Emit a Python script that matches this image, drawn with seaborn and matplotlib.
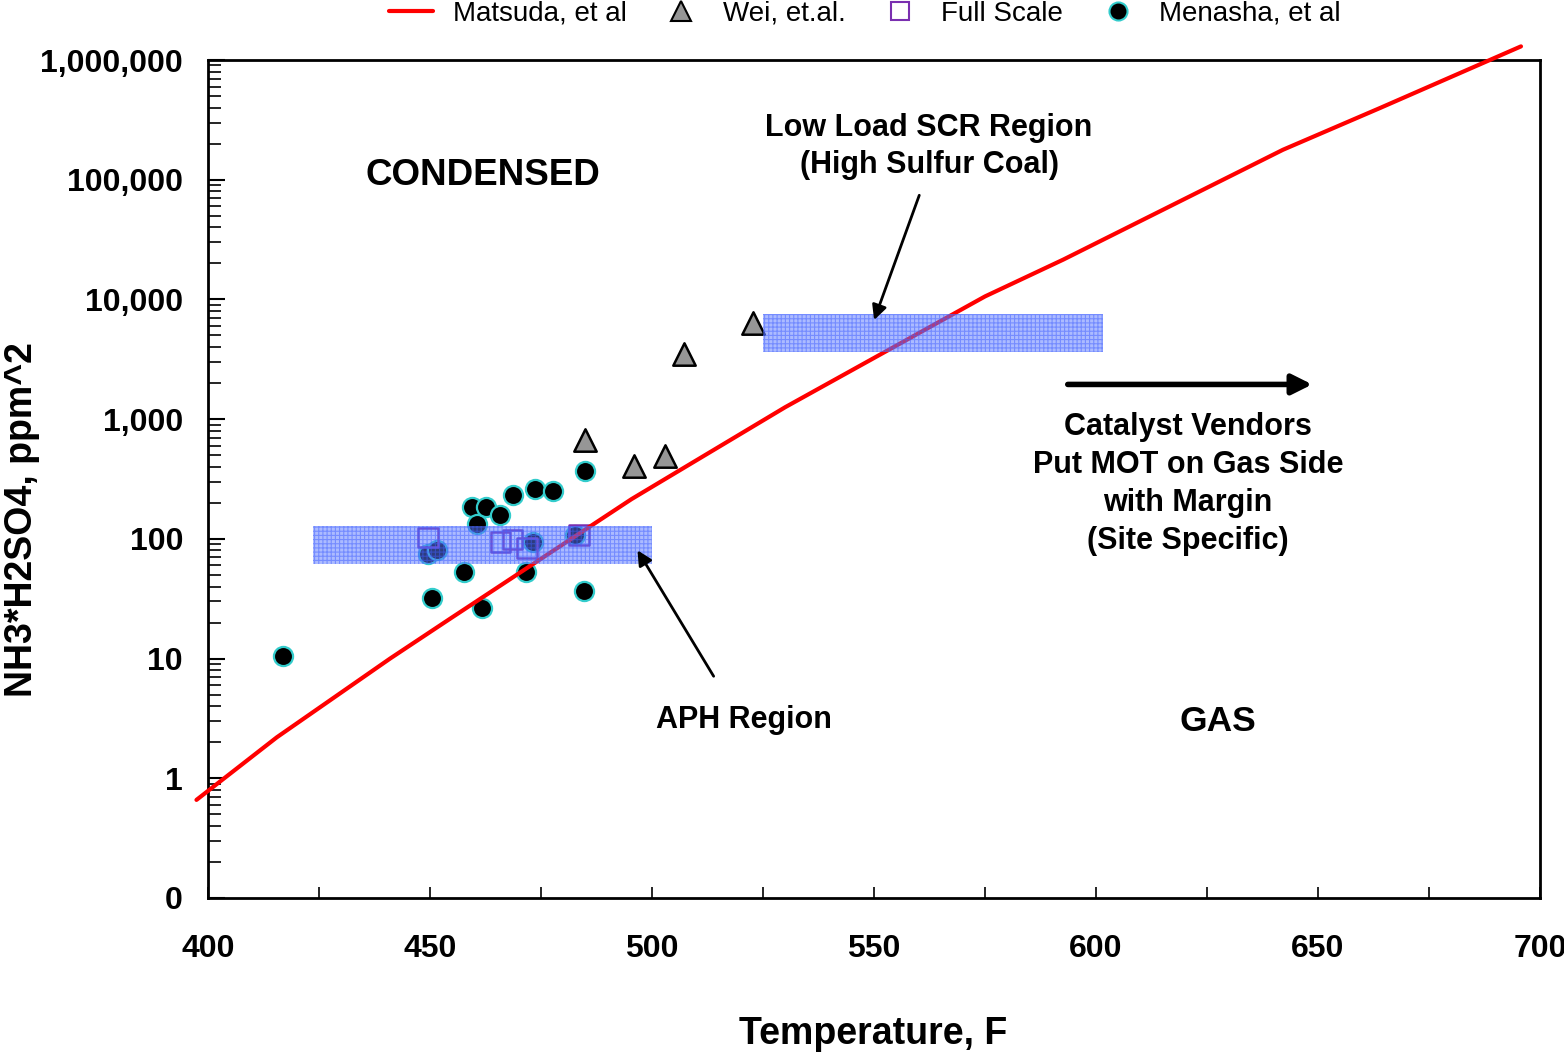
import matplotlib
matplotlib.use("Agg")
import matplotlib.pyplot as plt
import seaborn as sns
import numpy as np
import pandas as pd
from matplotlib.lines import Line2D
from matplotlib.ticker import FixedLocator, FixedFormatter, LogLocator, NullFormatter, MultipleLocator

# ---------------- data ----------------
matsuda_T = [397.4, 415.5, 441.0, 454.5, 495.4, 530.0, 575.0, 592.6, 642.1, 664.0, 695.7]
matsuda_v = [0.66, 2.2, 10.0, 21.5, 215, 1259, 10600, 21500, 178000, 398000, 1300000]

wei_T = [485.0, 495.9, 503.0, 507.1, 522.8]
wei_v = [668, 408, 494, 3480, 6400]

full_T = [449.6, 465.9, 468.6, 471.8, 483.6]
full_v = [103, 94, 99, 84, 108]

menasha_T = [416.9, 449.6, 450.5, 451.5, 457.7, 459.5, 460.5, 461.8, 462.7, 465.8,
             468.6, 471.7, 473.1, 473.6, 477.6, 482.7, 484.7, 484.9]
menasha_v = [10.6, 75, 32, 80, 53, 186, 133, 26.6, 186, 158,
             234, 53, 94, 263, 252, 108, 37, 369]

aph_band_T = [423.6, 500.0]
aph_band_v = [62, 128]
scr_band_T = [525.0, 601.6]
scr_band_v = [3615, 7500]

y_ticks = [0.1, 1, 10, 100, 1000, 10000, 100000, 1000000]
y_labels = ["0", "1", "10", "100", "1,000", "10,000", "100,000", "1,000,000"]
x_ticks = [400, 450, 500, 550, 600, 650, 700]
x_labels = ["400", "450", "500", "550", "600", "650", "700"]

# ---------------- style ----------------
sns.set_theme(style="white")
plt.rcParams['font.family'] = ['Liberation Sans', 'DejaVu Sans']
plt.rcParams['text.color'] = 'black'
plt.rcParams['axes.labelcolor'] = 'black'
plt.rcParams['xtick.color'] = 'black'
plt.rcParams['ytick.color'] = 'black'
plt.rcParams['hatch.linewidth'] = 0.8

fig = plt.figure(figsize=(15.64, 10.53), dpi=100)
ax = fig.add_axes([0.133, 0.1472, 0.8517, 0.7958])

RED = "#ff0000"
CYAN = "#33cccc"
PURPLE = "#7a2fb0"
GRAY = "#969696"
BAND = "#5a78ff"

# bands (drawn over markers, semi-transparent hatched blue)
for bT, bv in [(aph_band_T, aph_band_v), (scr_band_T, scr_band_v)]:
    ax.fill_between(bT, [bv[0]] * 2, [bv[1]] * 2, facecolor=BAND, alpha=0.5,
                    edgecolor="#3f5fff", hatch="++++", linewidth=0, zorder=6)

# Matsuda line
sns.lineplot(x=matsuda_T, y=matsuda_v, ax=ax, color=RED, linewidth=3.0,
             zorder=5, sort=False, estimator=None)
for ln in ax.lines:
    ln.set_clip_on(False)

# scatter series
sns.scatterplot(x=menasha_T, y=menasha_v, ax=ax, marker="o", s=190,
                color="black", edgecolor=CYAN, linewidth=1.6, zorder=4)
sns.scatterplot(x=full_T, y=full_v, ax=ax, marker="s", s=200,
                facecolor="none", edgecolor=PURPLE, linewidth=1.8, zorder=4)
sns.scatterplot(x=wei_T, y=wei_v, ax=ax, marker="^", s=260,
                color=GRAY, edgecolor="black", linewidth=1.8, zorder=4)

ax.set_yscale("log")
ax.set_xlim(400, 700)
ax.set_ylim(0.1, 1000000)

ax.yaxis.set_major_locator(FixedLocator(y_ticks))
ax.yaxis.set_major_formatter(FixedFormatter(y_labels))
ax.yaxis.set_minor_locator(LogLocator(base=10, subs=np.arange(2, 10)))
ax.yaxis.set_minor_formatter(NullFormatter())
ax.xaxis.set_major_locator(FixedLocator(x_ticks))
ax.xaxis.set_major_formatter(FixedFormatter(x_labels))
ax.xaxis.set_minor_locator(MultipleLocator(25))

ax.tick_params(axis="y", which="major", direction="in", length=12, width=1.5,
               labelsize=23, pad=18, left=True, right=False)
ax.tick_params(axis="y", which="minor", direction="in", length=9, width=1.2,
               left=True, right=False)
ax.tick_params(axis="x", which="major", direction="in", length=8, width=1.2,
               labelsize=23, pad=26, bottom=True, top=False)
ax.tick_params(axis="x", which="minor", direction="in", length=8, width=1.2,
               bottom=True, top=False)
for lab in ax.get_xticklabels() + ax.get_yticklabels():
    lab.set_fontweight("bold")
    lab.set_color("black")

for sp in ax.spines.values():
    sp.set_visible(True)
    sp.set_color("black")
    sp.set_linewidth(2.0)

ax.set_xlabel("")
ax.set_ylabel("")
fig.text(873 / 1564, 1 - 1034 / 1053, "Temperature, F", fontsize=27, fontweight="bold",
         ha="center", va="center", color="black")
fig.text(22 / 1564, 1 - 520 / 1053, "NH3*H2SO4, ppm^2", fontsize=27, fontweight="bold",
         ha="center", va="center", rotation=90, color="black")

# texts
ax.text(461.9, 10 ** ((780 - 176) / 120), "CONDENSED", fontsize=26.5, fontweight="bold",
        ha="center", va="center")
ax.text(562.4, 10 ** ((780 - 147) / 120), "Low Load SCR Region\n(High Sulfur Coal)",
        fontsize=22, fontweight="bold", ha="center", va="center", linespacing=1.3)
ax.text(620.7, 10 ** ((780 - 485) / 120),
        "Catalyst Vendors\nPut MOT on Gas Side\nwith Margin\n(Site Specific)",
        fontsize=22, fontweight="bold", ha="center", va="center", linespacing=1.36)
ax.text(520.8, 10 ** ((780 - 722) / 120), "APH Region", fontsize=22, fontweight="bold",
        ha="center", va="center")
ax.text(627.5, 10 ** ((780 - 723) / 120), "GAS", fontsize=25.5, fontweight="bold",
        ha="center", va="center")

# arrows
ax.annotate("", xy=(549.8, 6400), xytext=(560.4, 78000),
            arrowprops=dict(arrowstyle="-|>", color="black", lw=2, mutation_scale=22), zorder=8)
ax.annotate("", xy=(496.4, 84), xytext=(514.2, 6.8),
            arrowprops=dict(arrowstyle="-|>", color="black", lw=2, mutation_scale=22), zorder=8)
ax.annotate("", xy=(649.3, 1950), xytext=(593.0, 1950),
            arrowprops=dict(arrowstyle="-|>", color="black", lw=4, mutation_scale=30), zorder=8)

# legend
handles = [
    Line2D([], [], color=RED, lw=3),
    Line2D([], [], marker="^", linestyle="none", markerfacecolor=GRAY,
           markeredgecolor="black", markersize=15, markeredgewidth=1.5),
    Line2D([], [], marker="s", linestyle="none", markerfacecolor="none",
           markeredgecolor=PURPLE, markersize=13, markeredgewidth=1.5),
    Line2D([], [], marker="o", linestyle="none", markerfacecolor="black",
           markeredgecolor=CYAN, markersize=13, markeredgewidth=1.5),
]
labels = ["Matsuda, et al", "Wei, et.al.", "Full Scale", "Menasha, et al"]
leg = fig.legend(handles, labels, loc="center", bbox_to_anchor=(0.553, 0.987),
                 ncol=4, frameon=False, fontsize=20, handlelength=1.6,
                 columnspacing=1.16, handletextpad=0.7, borderaxespad=0)
for t in leg.get_texts():
    t.set_color("black")

fig.savefig("out.png", dpi=100)
